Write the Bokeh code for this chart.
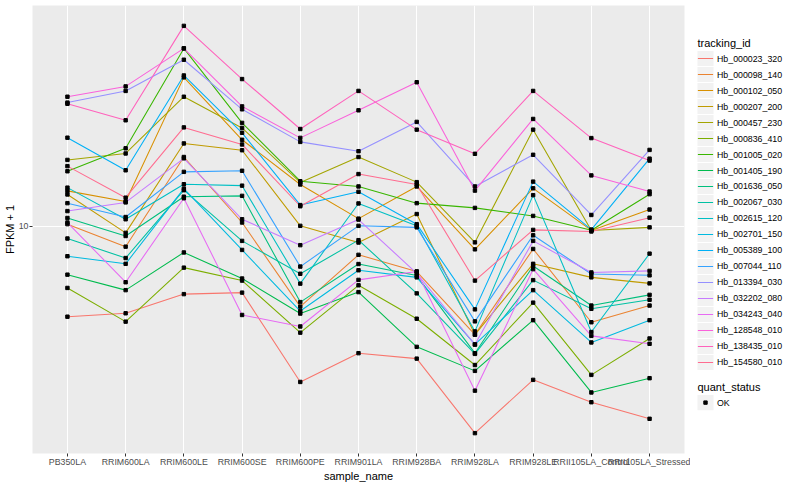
import math
from bokeh.plotting import figure
from bokeh.models import Range1d, FixedTicker, BasicTickFormatter
from bokeh.layouts import row
from bokeh.embed import file_html
from bokeh.resources import INLINE
from bokeh.core.properties import value

samples = ["PB350LA", "RRIM600LA", "RRIM600LE", "RRIM600SE", "RRIM600PE",
           "RRIM901LA", "RRIM928BA", "RRIM928LA", "RRIM928LE",
           "RRII105LA_Control", "RRII105LA_Stressed"]

tracking_ids = ["Hb_000023_320", "Hb_000098_140", "Hb_000102_050", "Hb_000207_200",
                "Hb_000457_230", "Hb_000836_410", "Hb_001005_020", "Hb_001405_190",
                "Hb_001636_050", "Hb_002067_030", "Hb_002615_120", "Hb_002701_150",
                "Hb_005389_100", "Hb_007044_110", "Hb_013394_030", "Hb_032202_080",
                "Hb_034243_040", "Hb_128548_010", "Hb_138435_010", "Hb_154580_010"]

# FPKM + 1 per sample (same order as samples)
hb_000023_320 = [5.84, 5.96, 6.68, 6.74, 3.96, 4.70, 4.55, 2.92, 4.01, 3.51, 3.18]
hb_000098_140 = [10.13, 8.86, 15.11, 10.23, 6.20, 8.44, 7.64, 5.25, 8.74, 5.65, 6.24]
hb_000102_050 = [12.35, 11.59, 24.27, 16.74, 12.83, 10.47, 12.68, 8.72, 12.54, 9.76, 11.05]
hb_000207_200 = [12.09, 9.62, 16.38, 15.73, 10.03, 9.08, 10.76, 5.25, 8.00, 7.38, 7.12]
hb_000457_230 = [14.85, 15.43, 21.63, 17.96, 12.99, 15.11, 13.01, 9.09, 17.78, 9.76, 9.94]
hb_000836_410 = [6.93, 5.67, 7.82, 7.24, 5.31, 7.04, 5.77, 4.38, 6.35, 4.13, 5.13]
hb_001005_020 = [13.88, 15.91, 28.84, 18.51, 13.08, 12.68, 11.48, 11.16, 10.64, 9.77, 12.11]
hb_001405_190 = [7.50, 6.84, 8.56, 7.33, 5.95, 6.76, 4.88, 4.23, 5.72, 3.72, 4.05]
hb_001636_050 = [10.51, 9.44, 11.93, 11.99, 6.37, 7.99, 7.46, 4.70, 7.90, 6.24, 6.65]
hb_002067_030 = [9.30, 8.28, 12.40, 9.17, 7.54, 9.21, 6.71, 4.68, 7.26, 6.12, 6.46]
hb_002615_120 = [12.59, 10.43, 12.85, 12.74, 7.11, 11.46, 10.04, 5.35, 12.04, 5.33, 8.50]
hb_002701_150 = [8.37, 8.00, 12.52, 8.69, 6.04, 7.70, 7.38, 4.95, 6.84, 5.01, 5.72]
hb_005389_100 = [16.95, 13.96, 24.55, 17.45, 11.35, 12.28, 10.13, 6.10, 13.05, 9.81, 14.96]
hb_007044_110 = [11.48, 10.57, 13.83, 13.92, 7.87, 10.03, 9.94, 5.68, 9.48, 7.53, 7.47]
hb_013394_030 = [20.89, 22.39, 26.96, 20.07, 16.53, 15.64, 18.62, 12.68, 15.31, 10.70, 15.76]
hb_032202_080 = [10.95, 11.53, 14.99, 10.43, 8.94, 10.41, 7.56, 4.95, 9.17, 7.60, 7.67]
hb_034243_040 = [10.23, 7.17, 11.82, 5.90, 5.51, 7.27, 7.64, 3.76, 7.75, 5.21, 4.97]
hb_128548_010 = [21.63, 23.00, 28.84, 20.42, 16.93, 19.95, 23.58, 12.37, 18.95, 13.54, 12.30]
hb_138435_010 = [20.74, 18.80, 32.98, 24.03, 17.85, 22.39, 17.78, 15.40, 22.39, 16.91, 14.79]
hb_154580_010 = [14.31, 11.86, 18.02, 16.28, 11.27, 13.65, 12.83, 7.24, 9.79, 9.70, 10.53]

series = [hb_000023_320, hb_000098_140, hb_000102_050, hb_000207_200, hb_000457_230,
          hb_000836_410, hb_001005_020, hb_001405_190, hb_001636_050, hb_002067_030,
          hb_002615_120, hb_002701_150, hb_005389_100, hb_007044_110, hb_013394_030,
          hb_032202_080, hb_034243_040, hb_128548_010, hb_138435_010, hb_154580_010]

colors = ["#F8766D", "#EA8331", "#D89000", "#C09B00", "#A3A500", "#7CAE00", "#39B600",
          "#00BB4E", "#00BF7D", "#00C1A3", "#00BFC4", "#00BAE0", "#00B0F6", "#35A2FF",
          "#9590FF", "#C77CFF", "#E76BF3", "#FA62DB", "#FF62BC", "#FF6C90"]

quant_status = ["OK"]

FONT = "Liberation Sans"

# ggplot-like 5% expansion in log space
allv = [v for s in series for v in s]
lmin, lmax = math.log10(min(allv)), math.log10(max(allv))
pad = (lmax - lmin) * 0.05
y_lo, y_hi = 10 ** (lmin - pad), 10 ** (lmax + pad)

xs = list(range(len(samples)))

p = figure(width=690, height=484, x_range=Range1d(-0.6, len(samples) - 0.4),
           y_range=Range1d(y_lo, y_hi), y_axis_type="log",
           output_backend="svg", toolbar_location=None,
           min_border_left=27, min_border_right=6, min_border_top=5, min_border_bottom=0)
p.background_fill_color = "#EBEBEB"
p.border_fill_color = "white"
p.outline_line_color = None

p.xaxis.ticker = FixedTicker(ticks=xs)
p.xaxis.major_label_overrides = {i: s for i, s in enumerate(samples)}
p.yaxis.ticker = FixedTicker(ticks=[10])
p.yaxis.formatter = BasicTickFormatter()
p.xaxis.axis_label = "sample_name"
p.yaxis.axis_label = "FPKM + 1"
for ax in (p.xaxis, p.yaxis):
    ax.axis_line_color = None
    ax.major_tick_line_color = "#333333"
    ax.major_tick_out = 3
    ax.major_tick_in = 0
    ax.minor_tick_line_color = None
    ax.major_label_text_font = FONT
    ax.major_label_text_font_size = "8.8px"
    ax.major_label_text_color = "#4D4D4D"
    ax.major_label_standoff = 1
    ax.axis_label_text_font = FONT
    ax.axis_label_text_font_size = "11px"
    ax.axis_label_text_font_style = "normal"
    ax.axis_label_text_color = "black"
    ax.axis_label_standoff = 0
p.xaxis.major_label_standoff = 0

p.xgrid.ticker = FixedTicker(ticks=xs)
p.ygrid.ticker = FixedTicker(ticks=[10])
for g in (p.xgrid, p.ygrid):
    g.grid_line_color = "white"
    g.grid_line_width = 1.1
    g.minor_grid_line_color = None

for vals, col in zip(series, colors):
    p.line(xs, vals, line_color=col, line_width=1.07)
for vals in series:
    p.scatter(xs, vals, marker="square", size=3.4, color="black")

# ---- legend panel (ggplot style) ----
leg = figure(width=94, height=484, x_range=Range1d(0, 94), y_range=Range1d(484, 0),
             output_backend="svg", toolbar_location=None, x_axis_type=None, y_axis_type=None,
             min_border=0)
leg.outline_line_color = None
leg.grid.visible = False
leg.background_fill_color = "white"
leg.border_fill_color = "white"

step = 17.28
y0 = 57.3
key_y = [y0 + step * i for i in range(len(tracking_ids))]
leg.text([7], [40.5], text=["tracking_id"], text_font=value(FONT), text_font_size="11px",
         text_baseline="middle", text_color="black")
leg.rect([15] * len(key_y), key_y, width=16, height=16.3, fill_color="#F2F2F2", line_color=None)
leg.segment([7.4] * len(key_y), key_y, [22.6] * len(key_y), key_y, line_color=colors, line_width=1.07)
leg.text([26.5] * len(key_y), key_y, text=tracking_ids, text_font=value(FONT),
         text_font_size="8.8px", text_baseline="middle", text_color="black")

qy = 429
leg.text([7], [412], text=["quant_status"], text_font=value(FONT), text_font_size="11px",
         text_baseline="middle", text_color="black")
leg.rect([15], [qy], width=16, height=16.3, fill_color="#F2F2F2", line_color=None)
leg.scatter([15], [qy], marker="square", size=3.4, color="black")
leg.text([26.5], [qy], text=quant_status, text_font=value(FONT), text_font_size="8.8px",
         text_baseline="middle", text_color="black")

layout = row(p, leg)
open("out.html", "w").write(file_html(layout, INLINE))
